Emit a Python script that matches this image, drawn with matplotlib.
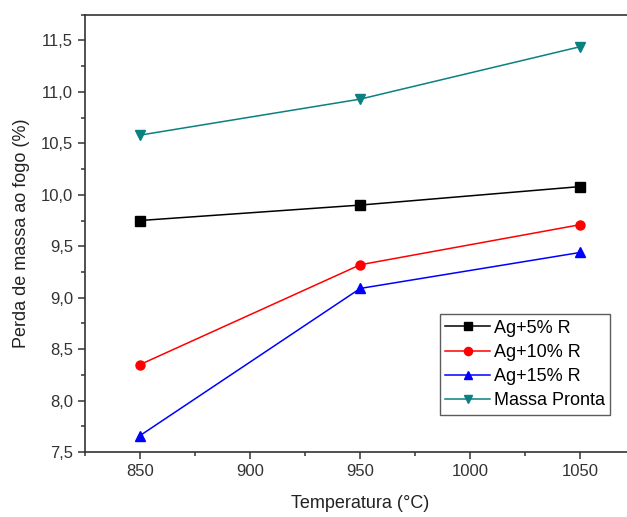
import matplotlib
matplotlib.use("Agg")
import matplotlib.pyplot as plt
from matplotlib.ticker import MultipleLocator, FuncFormatter

plt.rcParams['font.family'] = ['Liberation Sans', 'DejaVu Sans']

temperaturas = [850, 950, 1050]
ag5 = [9.75, 9.90, 10.08]
ag10 = [8.35, 9.32, 9.71]
ag15 = [7.66, 9.09, 9.44]
massa_pronta = [10.58, 10.93, 11.44]

series = [
    ("Ag+5% R", ag5, "black", "s"),
    ("Ag+10% R", ag10, "red", "o"),
    ("Ag+15% R", ag15, "blue", "^"),
    ("Massa Pronta", massa_pronta, "#0a8080", "v"),
]

fig = plt.figure(figsize=(6.27, 5.17), dpi=100)
ax = fig.add_axes([0.1356, 0.1257, 0.878, 0.8458])

for nome, valores, cor, marcador in series:
    ax.plot(temperaturas, valores, color=cor, marker=marcador, markersize=6.5,
            linewidth=1.1, label=nome)

ax.set_xlim(825, 1075)
ax.set_ylim(7.5, 11.75)
ax.xaxis.set_major_locator(MultipleLocator(50))
ax.xaxis.set_minor_locator(MultipleLocator(25))
ax.yaxis.set_major_locator(MultipleLocator(0.5))
ax.yaxis.set_minor_locator(MultipleLocator(0.25))
ax.yaxis.set_major_formatter(FuncFormatter(lambda v, p: f"{v:.1f}".replace(".", ",")))

ax.tick_params(which="both", direction="out", top=False, right=False,
               color="#333333", width=1.1)
ax.tick_params(which="major", length=5, labelsize=12, labelcolor="#333333")
ax.tick_params(which="minor", length=3)
for s in ax.spines.values():
    s.set_color("#333333")
    s.set_linewidth(1.2)

ax.set_xlabel("Temperatura (°C)", fontsize=13, color="#222222", labelpad=12)
ax.set_ylabel("Perda de massa ao fogo (%)", fontsize=13, color="#222222", labelpad=8)

leg = ax.legend(loc="lower right", bbox_to_anchor=(0.954, 0.085), fontsize=13,
                frameon=True, fancybox=False, edgecolor="#333333",
                handlelength=2.5, handletextpad=0.2, labelspacing=0.4,
                borderpad=0.3, borderaxespad=0.0, markerscale=0.9)
leg.get_frame().set_linewidth(1.0)

fig.savefig("out.png", dpi=100)
